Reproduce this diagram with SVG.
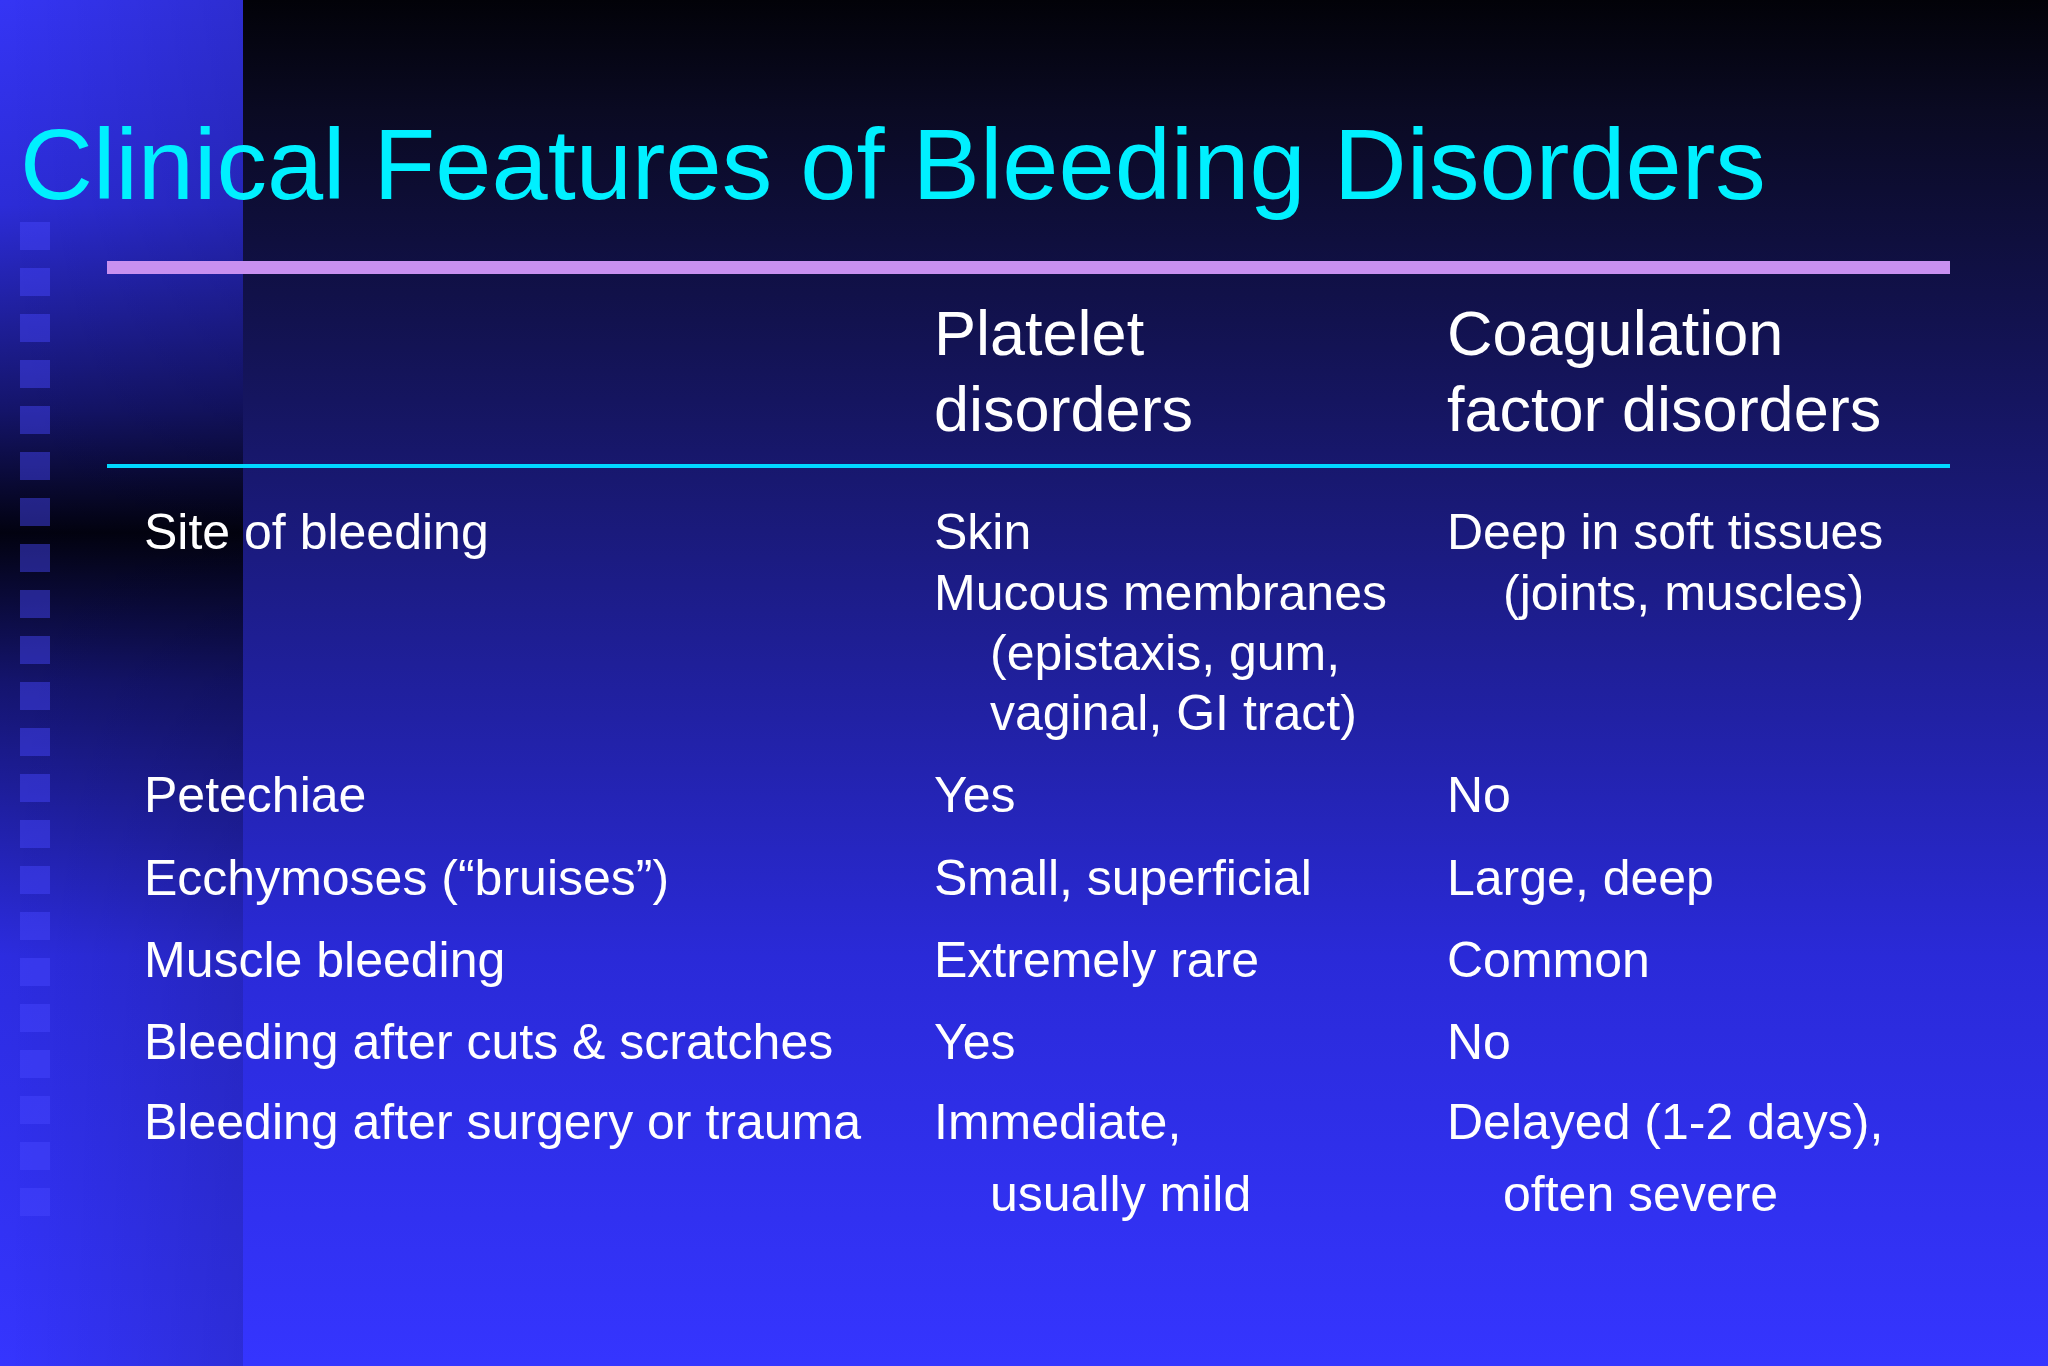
<svg xmlns="http://www.w3.org/2000/svg" width="2048" height="1366" viewBox="0 0 2048 1366">
<defs>
<linearGradient id="bg" x1="0" y1="0" x2="0" y2="1">
<stop offset="0" stop-color="#020208"/>
<stop offset="0.08" stop-color="#0a0a22"/>
<stop offset="0.35" stop-color="#181870"/>
<stop offset="0.7" stop-color="#2a2ad8"/>
<stop offset="1" stop-color="#3535ff"/>
</linearGradient>
<linearGradient id="strip" x1="0" y1="0" x2="0" y2="1">
<stop offset="0" stop-color="#3535f5"/>
<stop offset="0.15" stop-color="#2c2cd8"/>
<stop offset="0.3" stop-color="#14146a"/>
<stop offset="0.39" stop-color="#020210"/>
<stop offset="0.5" stop-color="#14146e"/>
<stop offset="0.7" stop-color="#2c2ce0"/>
<stop offset="1" stop-color="#3535ff"/>
</linearGradient>
<linearGradient id="stripH" x1="0" y1="0" x2="1" y2="0">
<stop offset="0" stop-color="#000" stop-opacity="0"/>
<stop offset="1" stop-color="#000" stop-opacity="0.15"/>
</linearGradient>
<pattern id="sq" x="20" y="222" width="30" height="46" patternUnits="userSpaceOnUse">
<rect x="0" y="0" width="30" height="28" fill="#4848ff" opacity="0.45"/>
</pattern>
</defs>
<style>
text{font-family:"Liberation Sans",Arial,sans-serif;fill:#ffffff}
.h{font-size:63px}
.c{font-size:50px}
</style>
<rect width="2048" height="1366" fill="url(#bg)"/>
<rect x="0" y="0" width="243" height="1366" fill="url(#strip)"/>
<rect x="0" y="0" width="243" height="1366" fill="url(#stripH)"/>
<rect x="20" y="222" width="30" height="1000" fill="url(#sq)"/>
<g id="title"><text x="20" y="199" style="font-size:101px;fill:#00f0ff">Clinical Features of Bleeding Disorders</text></g>
<g id="rules">
<rect x="107" y="261" width="1843" height="13" fill="#c890f0"/>
<rect x="107" y="464" width="1843" height="4" fill="#00d8ff"/>
</g>
<g id="header">
<text class="h" x="934" y="355">Platelet</text>
<text class="h" x="934" y="431">disorders</text>
<text class="h" x="1447" y="355">Coagulation</text>
<text class="h" x="1447" y="431">factor disorders</text>
</g>
<g id="rows">
<text class="c" x="144" y="549">Site of bleeding</text>
<text class="c" x="934" y="549">Skin</text>
<text class="c" x="934" y="610">Mucous membranes</text>
<text class="c" x="990" y="670">(epistaxis, gum,</text>
<text class="c" x="990" y="730">vaginal, GI tract)</text>
<text class="c" x="1447" y="549">Deep in soft tissues</text>
<text class="c" x="1503" y="610">(joints, muscles)</text>
<text class="c" x="144" y="812">Petechiae</text>
<text class="c" x="934" y="812">Yes</text>
<text class="c" x="1447" y="812">No</text>
<text class="c" x="144" y="895">Ecchymoses (“bruises”)</text>
<text class="c" x="934" y="895">Small, superficial</text>
<text class="c" x="1447" y="895">Large, deep</text>
<text class="c" x="144" y="977">Muscle bleeding</text>
<text class="c" x="934" y="977">Extremely rare</text>
<text class="c" x="1447" y="977">Common</text>
<text class="c" x="144" y="1059">Bleeding after cuts &amp; scratches</text>
<text class="c" x="934" y="1059">Yes</text>
<text class="c" x="1447" y="1059">No</text>
<text class="c" x="144" y="1139">Bleeding after surgery or trauma</text>
<text class="c" x="934" y="1139">Immediate,</text>
<text class="c" x="990" y="1211">usually mild</text>
<text class="c" x="1447" y="1139">Delayed (1-2 days),</text>
<text class="c" x="1503" y="1211">often severe</text>
</g>
</svg>
